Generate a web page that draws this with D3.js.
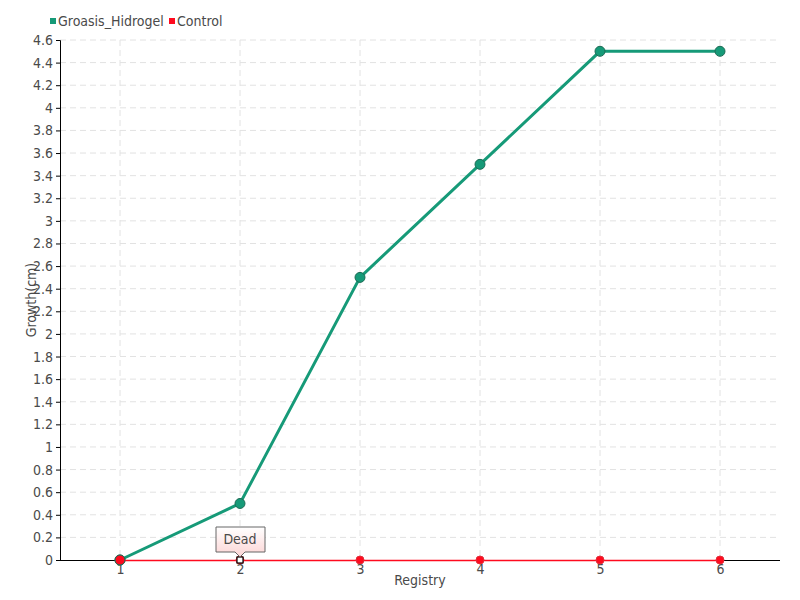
<!DOCTYPE html>
<html>
<head>
<meta charset="utf-8">
<script src="https://cdn.jsdelivr.net/npm/d3@7"></script>
<style>
  body { margin: 0; background: #fff; }
  text { font-family: "DejaVu Sans Condensed", "DejaVu Sans", sans-serif; font-stretch: condensed; }
</style>
</head>
<body>
<svg id="chart" width="800" height="600"></svg>
<script>
var registry = [1, 2, 3, 4, 5, 6];
var groasis = [0, 0.5, 2.5, 3.5, 4.5, 4.5];
var control = [0, 0, 0, 0, 0, 0];
var yTicks = d3.range(0, 4.61, 0.2).map(v => +v.toFixed(1));
var seriesNames = ["Groasis_Hidrogel", "Control"];
var colors = ["#169a78", "#ff0a1e"];
var annotation = {index: 1, label: "Dead"};

var svg = d3.select("#chart"),
    margin = {top: 40, left: 60, bottom: 40, right: 20},
    width = +svg.attr("width"),
    height = +svg.attr("height");

var x = d3.scalePoint()
    .domain(registry)
    .range([margin.left, width - margin.right])
    .padding(0.5);

var y = d3.scaleLinear()
    .domain([0, 4.6])
    .range([height - margin.bottom, margin.top]);

// grid
svg.append("g").selectAll("line")
    .data(yTicks.slice(1))
    .enter().append("line")
    .attr("x1", margin.left).attr("x2", width - margin.right)
    .attr("y1", d => y(d)).attr("y2", d => y(d))
    .attr("stroke", "#e2e2e2").attr("stroke-dasharray", "6,4");

svg.append("g").selectAll("line")
    .data(registry)
    .enter().append("line")
    .attr("x1", d => x(d)).attr("x2", d => x(d))
    .attr("y1", margin.top).attr("y2", y(0))
    .attr("stroke", "#e2e2e2").attr("stroke-dasharray", "6,4");

// axes
var yAxis = svg.append("g")
    .attr("transform", `translate(${margin.left},0)`)
    .call(d3.axisLeft(y).tickValues(yTicks).tickSize(4).tickFormat(d => d3.format("~g")(d)));

var xAxis = svg.append("g")
    .attr("transform", `translate(0,${y(0)})`)
    .call(d3.axisBottom(x).tickSize(5).tickSizeOuter(0));
xAxis.select(".domain").attr("d", `M${margin.left},0.5H${width - margin.right}`);

svg.selectAll(".tick text").attr("fill", "#4a4a4a").style("font-size", "14px");
xAxis.selectAll(".tick text").attr("dy", "0.45em");
xAxis.selectAll(".tick line").attr("stroke", "#bbb");

svg.append("text")
    .attr("transform", "rotate(-90)")
    .attr("x", -300).attr("y", 36)
    .attr("text-anchor", "middle")
    .attr("fill", "#4a4a4a").style("font-size", "14px")
    .text("Growth(cm)");

svg.append("text")
    .attr("x", 420).attr("y", 585)
    .attr("text-anchor", "middle")
    .attr("fill", "#4a4a4a").style("font-size", "14px")
    .text("Registry");

// series
var line = d3.line()
    .x((d, i) => x(registry[i]))
    .y(d => y(d));

svg.append("path")
    .datum(groasis)
    .attr("fill", "none")
    .attr("stroke", colors[0])
    .attr("stroke-width", 3)
    .attr("d", line);

svg.append("g").selectAll("circle")
    .data(groasis)
    .enter().append("circle")
    .attr("cx", (d, i) => x(registry[i]))
    .attr("cy", d => y(d))
    .attr("r", 5)
    .attr("fill", colors[0])
    .attr("stroke", "#1d6b55")
    .attr("stroke-width", 1);

svg.append("path")
    .datum(control)
    .attr("fill", "none")
    .attr("stroke", colors[1])
    .attr("stroke-width", 1.5)
    .attr("transform", "translate(0,0.5)")
    .attr("d", line);

svg.append("g").selectAll("circle")
    .data(control)
    .enter().append("circle")
    .attr("cx", (d, i) => x(registry[i]))
    .attr("cy", d => y(d))
    .attr("r", (d, i) => i === 0 ? 5 : 4)
    .attr("fill", colors[1])
    .attr("stroke", (d, i) => i === 0 ? "#1d6b55" : "#e0303c")
    .attr("stroke-width", 1);

// annotation
var ax = x(registry[annotation.index]),
    ay = y(control[annotation.index]);

svg.append("rect")
    .attr("x", ax - 3).attr("y", ay - 3)
    .attr("width", 6).attr("height", 6)
    .attr("fill", "#fff").attr("stroke", "#000").attr("stroke-width", 1.2);

var defs = svg.append("defs");
var grad = defs.append("linearGradient")
    .attr("id", "tipgrad").attr("x1", 0).attr("x2", 0).attr("y1", 0).attr("y2", 1);
grad.append("stop").attr("offset", "0%").attr("stop-color", "#fff");
grad.append("stop").attr("offset", "100%").attr("stop-color", "#fcd4d4");

var bx = ax - 24, bw = 49, by = ay - 33, bh = 25;
svg.append("path")
    .attr("d", `M${bx},${by}H${bx + bw}V${by + bh}H${ax + 5}L${ax},${by + bh + 5}L${ax - 5},${by + bh}H${bx}Z`)
    .attr("fill", "url(#tipgrad)")
    .attr("stroke", "#666")
    .attr("stroke-width", 1);

svg.append("text")
    .attr("x", ax).attr("y", by + bh / 2)
    .attr("dy", "0.35em")
    .attr("text-anchor", "middle")
    .attr("fill", "#4a4a4a").style("font-size", "14px")
    .text(annotation.label);

// legend
var legend = svg.selectAll(".legend")
    .data(seriesNames)
    .enter().append("g")
    .attr("class", "legend")
    .attr("transform", (d, i) => `translate(${i === 0 ? 50 : 169},0)`);

legend.append("rect")
    .attr("x", 0).attr("y", 18)
    .attr("width", 6).attr("height", 6)
    .attr("fill", (d, i) => colors[i]);

legend.append("text")
    .attr("x", 8).attr("y", 21)
    .attr("dy", "0.35em")
    .attr("fill", "#4a4a4a").style("font-size", "14px")
    .text(d => d);
</script>
</body>
</html>
